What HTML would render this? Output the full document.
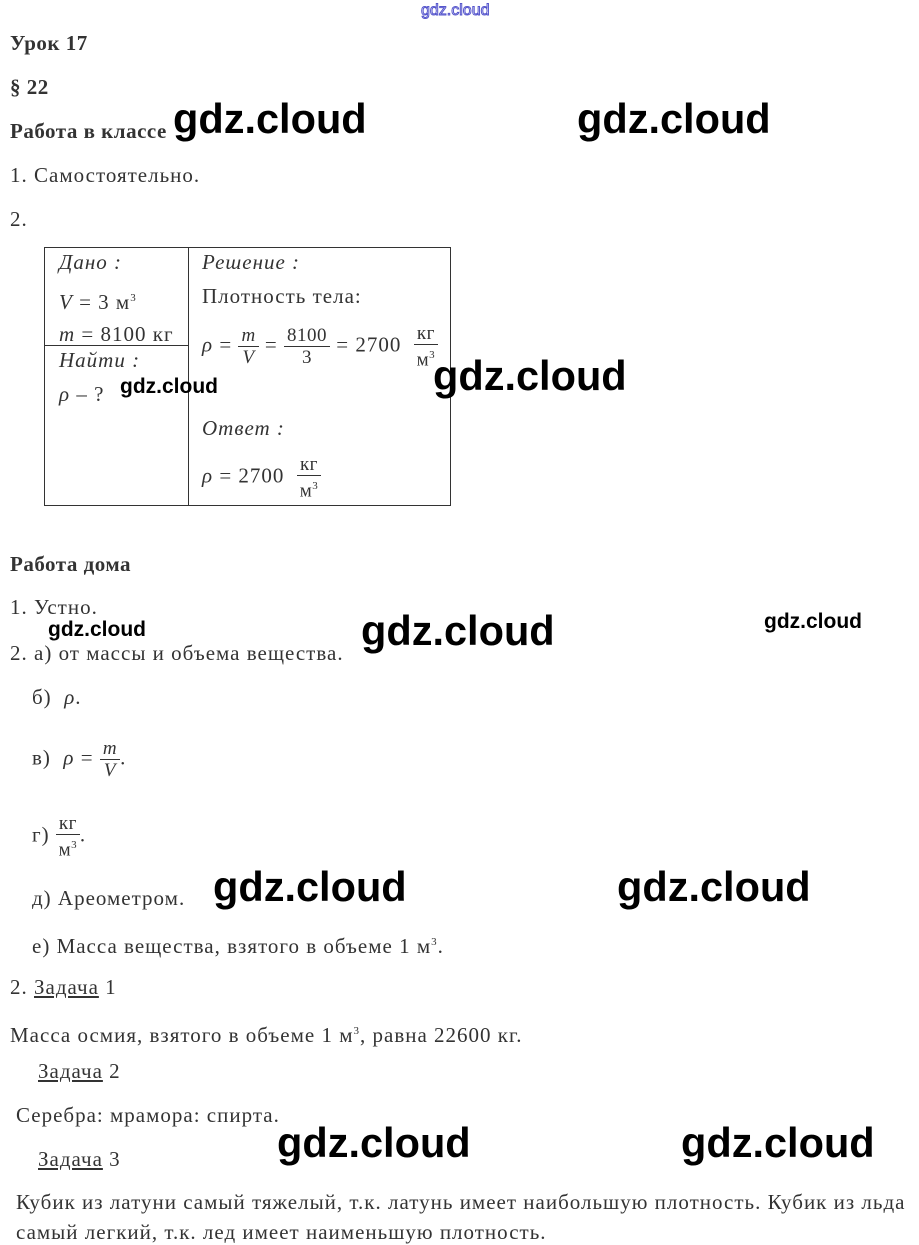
<!DOCTYPE html>
<html><head><meta charset="utf-8"><style>
body{margin:0;width:919px;height:1245px;background:#fff;position:relative;overflow:hidden;font-family:"Liberation Serif",serif;color:#333;}
.t{position:absolute;font-size:21px;line-height:24px;white-space:nowrap;letter-spacing:1px;}
.b{font-weight:bold;letter-spacing:0.5px;}
.i{font-style:italic;}
.w{position:absolute;font-family:"Liberation Sans",sans-serif;color:#000;white-space:nowrap;font-weight:bold;letter-spacing:0;}
.big{font-size:41.5px;line-height:50px;}
.sm{font-size:21px;line-height:26px;}
.u{text-decoration:underline;}
.fr{display:inline-block;vertical-align:middle;text-align:center;font-size:19px;line-height:21px;letter-spacing:0.5px;}
.fr span{display:block;}
.fr .n{border-bottom:1px solid #333;padding:0 3px;}
sup{font-size:11px;}
.ln{position:absolute;background:#333;}
</style></head><body>
<div class="w" style="left:421px;top:1px;font-size:16px;line-height:20px;font-weight:normal;color:#fff;-webkit-text-stroke:1px #55c;">gdz.cloud</div>

<div class="t b" style="left:10px;top:31px">Урок 17</div>
<div class="t b" style="left:10px;top:75px">§ 22</div>
<div class="t b" style="left:10px;top:119px">Работа в классе</div>
<div class="t" style="left:10px;top:163px">1. Самостоятельно.</div>
<div class="t" style="left:10px;top:207px">2.</div>

<div class="ln" style="left:45px;top:247px;width:406px;height:1px"></div>
<div class="ln" style="left:45px;top:505px;width:406px;height:1px"></div>
<div class="ln" style="left:44px;top:247px;width:1px;height:259px"></div>
<div class="ln" style="left:450px;top:247px;width:1px;height:259px"></div>
<div class="ln" style="left:188px;top:247px;width:1px;height:259px"></div>
<div class="ln" style="left:45px;top:345px;width:143px;height:1px"></div>

<div class="t i" style="left:59px;top:250px">Дано :</div>
<div class="t" style="left:59px;top:286px"><i>V</i> = 3 м<sup>3</sup></div>
<div class="t" style="left:59px;top:322px"><i>m</i> = 8100 кг</div>
<div class="t i" style="left:59px;top:348px">Найти :</div>
<div class="t" style="left:59px;top:382px"><i>ρ</i> – ?</div>
<div class="t i" style="left:202px;top:250px">Решение :</div>
<div class="t" style="left:202px;top:284px">Плотность тела:</div>
<div class="t" style="left:202px;top:323px"><i>ρ</i> = <span class="fr"><span class="n"><i>m</i></span><span><i>V</i></span></span> = <span class="fr"><span class="n">8100</span><span>3</span></span> = 2700 &nbsp;<span class="fr"><span class="n">кг</span><span>м<sup>3</sup></span></span></div>
<div class="t i" style="left:202px;top:416px">Ответ :</div>
<div class="t" style="left:202px;top:454px"><i>ρ</i> = 2700 &nbsp;<span class="fr"><span class="n">кг</span><span>м<sup>3</sup></span></span></div>

<div class="t b" style="left:10px;top:552px">Работа дома</div>
<div class="t" style="left:10px;top:595px">1. Устно.</div>
<div class="t" style="left:10px;top:641px">2. а) от массы и объема вещества.</div>
<div class="t" style="left:32px;top:685px">б) &nbsp;<i>ρ</i>.</div>
<div class="t" style="left:32px;top:738px">в) &nbsp;<i>ρ</i> = <span class="fr"><span class="n"><i>m</i></span><span><i>V</i></span></span>.</div>
<div class="t" style="left:32px;top:813px">г) <span class="fr"><span class="n">кг</span><span>м<sup>3</sup></span></span>.</div>
<div class="t" style="left:32px;top:886px">д) Ареометром.</div>
<div class="t" style="left:32px;top:930px">е) Масса вещества, взятого в объеме 1 м<sup>3</sup>.</div>
<div class="t" style="left:10px;top:975px">2. <span class="u">Задача</span> 1</div>
<div class="t" style="left:10px;top:1019px">Масса осмия, взятого в объеме 1 м<sup>3</sup>, равна 22600 кг.</div>
<div class="t" style="left:38px;top:1059px"><span class="u">Задача</span> 2</div>
<div class="t" style="left:16px;top:1103px">Серебра: мрамора: спирта.</div>
<div class="t" style="left:38px;top:1147px"><span class="u">Задача</span> 3</div>
<div class="t" style="left:16px;top:1190px">Кубик из латуни самый тяжелый, т.к. латунь имеет наибольшую плотность. Кубик из льда</div>
<div class="t" style="left:16px;top:1220px">самый легкий, т.к. лед имеет наименьшую плотность.</div>

<div class="w big" style="left:173px;top:94px">gdz.cloud</div>
<div class="w big" style="left:577px;top:94px">gdz.cloud</div>
<div class="w big" style="left:433px;top:351px">gdz.cloud</div>
<div class="w big" style="left:361px;top:606px">gdz.cloud</div>
<div class="w big" style="left:213px;top:862px">gdz.cloud</div>
<div class="w big" style="left:617px;top:862px">gdz.cloud</div>
<div class="w big" style="left:277px;top:1118px">gdz.cloud</div>
<div class="w big" style="left:681px;top:1118px">gdz.cloud</div>
<div class="w sm" style="left:120px;top:374px">gdz.cloud</div>
<div class="w sm" style="left:48px;top:617px">gdz.cloud</div>
<div class="w sm" style="left:764px;top:609px">gdz.cloud</div>
</body></html>
